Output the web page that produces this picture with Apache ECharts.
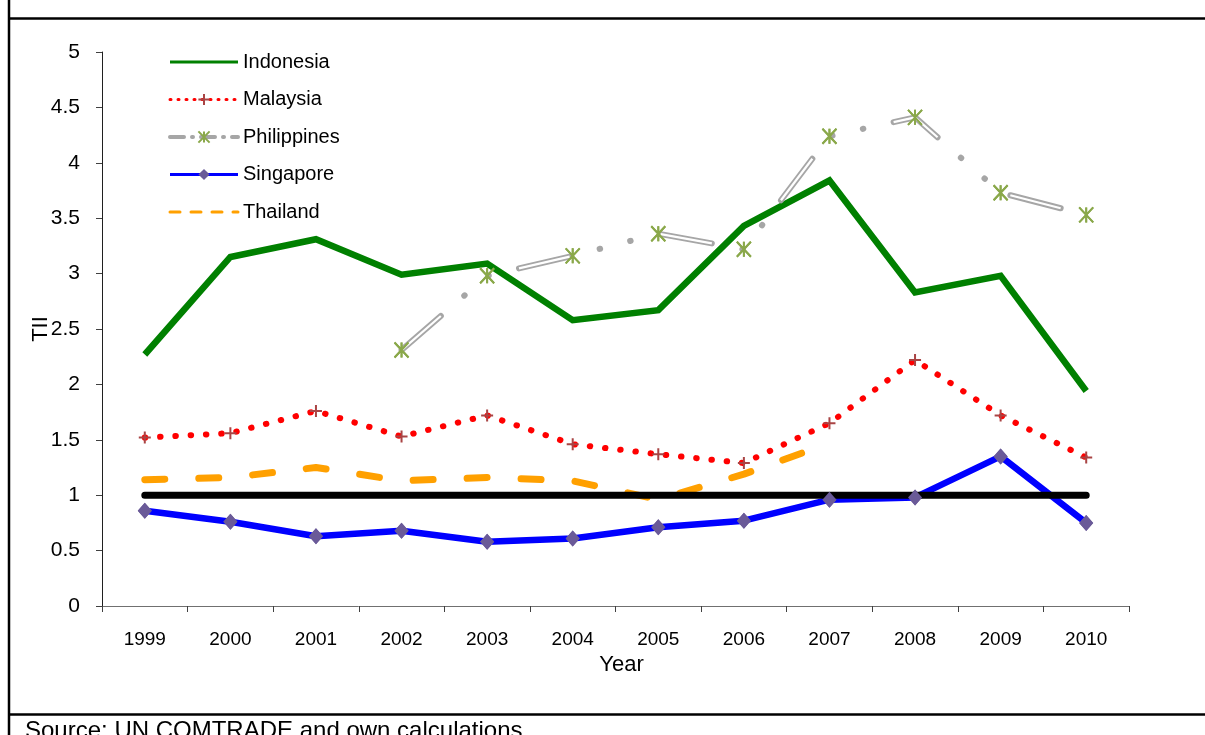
<!DOCTYPE html>
<html>
<head>
<meta charset="utf-8">
<script src="https://cdn.jsdelivr.net/npm/echarts@6/dist/echarts.min.js"></script>
<style>
html,body{margin:0;padding:0;background:#fff;}
#chart{width:1205px;height:735px;}
</style>
</head>
<body>
<div id="chart"></div>
<script>
// ---- data ----
var years = ['1999','2000','2001','2002','2003','2004','2005','2006','2007','2008','2009','2010'];
var yTicks = [0, 0.5, 1, 1.5, 2, 2.5, 3, 3.5, 4, 4.5, 5];
var indonesia   = [2.27, 3.15, 3.31, 2.99, 3.09, 2.58, 2.67, 3.43, 3.84, 2.83, 2.98, 1.94];
var malaysia    = [1.52, 1.56, 1.76, 1.53, 1.72, 1.46, 1.37, 1.29, 1.65, 2.22, 1.72, 1.34];
var philippines = [null, null, null, 2.31, 2.98, 3.16, 3.36, 3.22, 4.24, 4.41, 3.73, 3.53];
var singapore   = [0.86, 0.76, 0.63, 0.68, 0.58, 0.61, 0.71, 0.77, 0.96, 0.98, 1.35, 0.75];
var thailand    = [1.14, 1.16, 1.25, 1.13, 1.16, 1.13, 0.96, 1.19, 1.47, null, null, null];
var benchmark   = [1, 1, 1, 1, 1, 1, 1, 1, 1, 1, 1, 1];

var FONT = 'Liberation Sans, Arial, sans-serif';
var chart = echarts.init(document.getElementById('chart'), null, {renderer: 'canvas'});

var plusPath = 'path://M6,0L6,12M0,6L12,6';
var starPath = 'path://M0,0L10,12M10,0L0,12M5,0L5,12';

var option = {
  animation: false,
  backgroundColor: '#ffffff',
  grid: {left: 102, right: 76, top: 52, bottom: 129},
  legend: {
    left: 168, top: 52, orient: 'vertical', padding: 0,
    itemWidth: 68, itemHeight: 14, itemGap: 17.5,
    textStyle: {fontFamily: FONT, fontSize: 20, color: '#000', lineHeight: 20},
    lineStyle: {width: 3},
    data: [
      {name: 'Indonesia', itemStyle: {opacity: 0}},
      {name: 'Malaysia', lineStyle: {type: [1, 7], width: 3}},
      {name: 'Philippines', lineStyle: {type: [14, 8, 1, 8], width: 4}},
      {name: 'Singapore'},
      {name: 'Thailand', itemStyle: {opacity: 0}, lineStyle: {type: [10, 11], width: 3}}
    ]
  },
  xAxis: {
    type: 'category', data: years, boundaryGap: true,
    name: 'Year', nameLocation: 'middle', nameGap: 48, nameMoveOverlap: false,
    nameTextStyle: {fontFamily: FONT, fontSize: 22, color: '#000', padding: [0, 0, 0, 12]},
    axisLine: {lineStyle: {color: '#707070', width: 1}},
    axisTick: {show: true, length: 6, interval: 0, lineStyle: {color: '#404040'}},
    axisLabel: {fontFamily: FONT, fontSize: 19, color: '#000', margin: 24, interval: 0},
    splitLine: {show: false}
  },
  yAxis: {
    type: 'value', min: yTicks[0], max: yTicks[yTicks.length - 1], interval: yTicks[1] - yTicks[0],
    name: 'TII', nameLocation: 'middle', nameGap: 50, nameRotate: 90, nameMoveOverlap: false,
    nameTextStyle: {fontFamily: FONT, fontSize: 22, color: '#000'},
    axisLine: {show: true, lineStyle: {color: '#202020', width: 1}},
    axisTick: {show: true, length: 6, lineStyle: {color: '#404040'}},
    axisLabel: {fontFamily: FONT, fontSize: 21, color: '#000', margin: 22},
    splitLine: {show: false}
  },
  series: [
    {
      name: 'Indonesia', type: 'line', data: indonesia, symbol: 'none', z: 2,
      itemStyle: {color: '#008000'},
      lineStyle: {color: '#008000', width: 6.5, join: 'miter'}
    },
    {
      name: 'Malaysia', type: 'line', data: malaysia, z: 3,
      symbol: plusPath, symbolSize: 12, showAllSymbol: true,
      itemStyle: {color: '#a94444', borderColor: '#a94444', borderWidth: 2},
      lineStyle: {color: '#ff0000', width: 6, type: [0.5, 14.8], cap: 'round'}
    },
    {
      name: 'Philippines', type: 'line', data: philippines, z: 3,
      symbol: starPath, symbolSize: [14, 15], showAllSymbol: true,
      itemStyle: {color: '#8aa84a', borderColor: '#8aa84a', borderWidth: 2},
      lineStyle: {color: '#a6a6a6', width: 6, type: [52, 31, 0.5, 31, 0.5, 31], cap: 'round'}
    },
    {
      name: 'PhilippinesInner', type: 'line', data: philippines, z: 4,
      symbol: 'none', silent: true,
      lineStyle: {color: '#ffffff', width: 2.2, type: [52, 94], cap: 'butt'}
    },
    {
      name: 'PhilippinesMarks', type: 'line', data: philippines, z: 5,
      symbol: starPath, symbolSize: [14, 15], showAllSymbol: true,
      itemStyle: {color: '#8aa84a', borderColor: '#8aa84a', borderWidth: 2},
      lineStyle: {width: 0, opacity: 0}
    },
    {
      name: 'Thailand', type: 'line', data: thailand, symbol: 'none', z: 3,
      itemStyle: {color: '#ffa000'},
      lineStyle: {color: '#ffa000', width: 7, type: [20, 34], cap: 'round'}
    },
    {
      name: 'Singapore', type: 'line', data: singapore, z: 3,
      symbol: 'diamond', symbolSize: [14, 16], showAllSymbol: true,
      itemStyle: {color: '#6a5a98'},
      lineStyle: {color: '#0000ff', width: 6.5, join: 'round'}
    },
    {
      name: 'Benchmark', type: 'line', data: benchmark, symbol: 'none', z: 6,
      silent: true,
      lineStyle: {color: '#000000', width: 7, cap: 'round'}
    },
    {
      name: 'SingaporeMarks', type: 'line', data: singapore, z: 7,
      symbol: 'diamond', symbolSize: [14, 16], showAllSymbol: true,
      itemStyle: {color: '#6a5a98'},
      lineStyle: {width: 0, opacity: 0}
    }
  ],
  graphic: [
    {type: 'line', shape: {x1: 9, y1: 0, x2: 9, y2: 735}, style: {stroke: '#000', lineWidth: 2.5}, silent: true},
    {type: 'line', shape: {x1: 9, y1: 18.5, x2: 1205, y2: 18.5}, style: {stroke: '#000', lineWidth: 2.5}, silent: true},
    {type: 'line', shape: {x1: 9, y1: 714.5, x2: 1205, y2: 714.5}, style: {stroke: '#000', lineWidth: 2.5}, silent: true},
    {type: 'text', left: 25, top: 719, silent: true,
     style: {text: 'Source: UN COMTRADE and own calculations', font: '24px ' + FONT, fill: '#000'}}
  ]
};
chart.setOption(option);
</script>
</body>
</html>
